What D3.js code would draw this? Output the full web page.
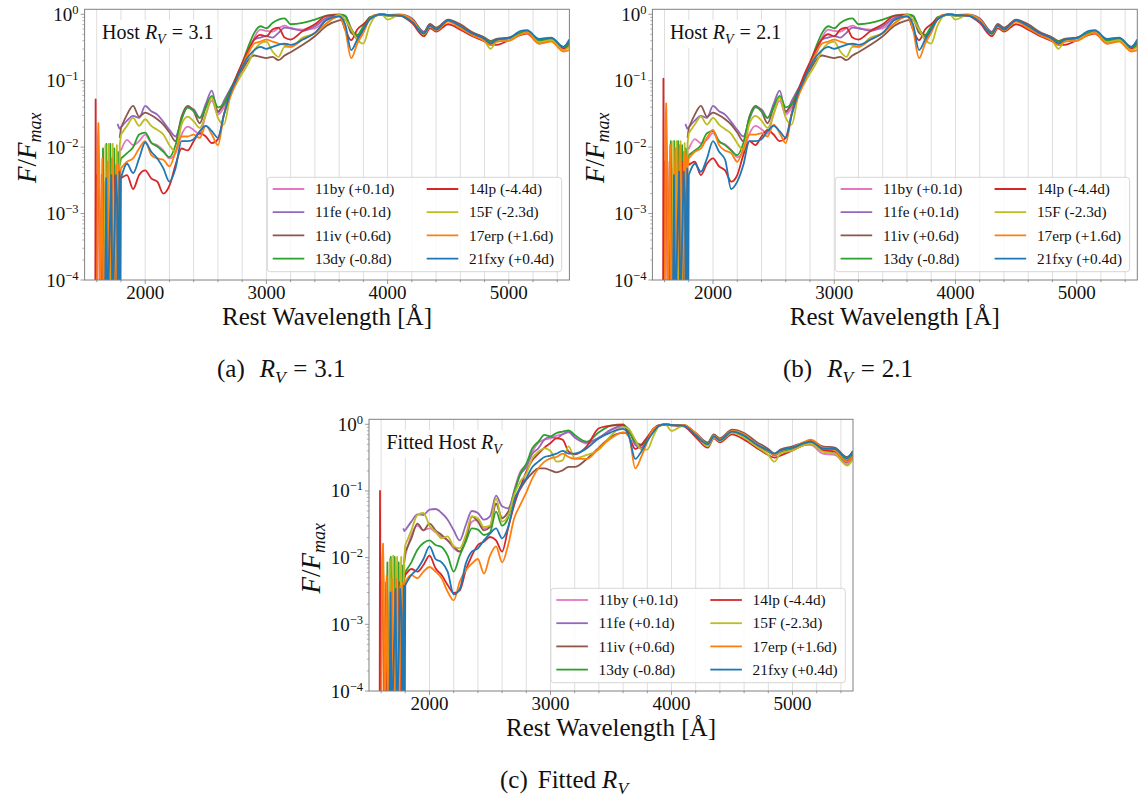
<!DOCTYPE html>
<html>
<head>
<meta charset="utf-8">
<script src="https://cdn.jsdelivr.net/npm/d3@7"></script>
<style>
  body { margin: 0; background: #fff; }
  svg text { font-family: "Liberation Serif", "Times New Roman", serif; fill: #111; }
</style>
</head>
<body>
<svg id="fig" width="1138" height="799"></svg>
<script>
// Shared rest-wavelength grid (Angstrom) for the smooth part of every spectrum.
const wave = [1800,1850,1900,1950,2000,2050,2100,2150,2200,2250,2300,2350,2400,2450,2500,2550,2600,2650,2700,2750,2800,2850,2900,2950,
  3000,3050,3100,3150,3200,3300,3400,3500,3600,3650,3700,3750,3800,3850,3900,
  3950,4000,4100,4200,4300,4350,4400,4500,4600,4700,4800,4850,4900,5000,5100,5150,5250,5350,5450,5500];

const snLabels = ["11by (+0.1d)", "11fe (+0.1d)", "11iv (+0.6d)", "13dy (-0.8d)",
                  "14lp (-4.4d)", "15F (-2.3d)", "17erp (+1.6d)", "21fxy (+0.4d)"];

// log10(F / Fmax), host corrected with R_V = 3.1
const a_11by  = [-2.05,-1.89,-1.97,-1.91,-1.81,-1.94,-1.97,-2.05,-2.17,-2.09,-1.81,-1.69,-1.74,-1.81,-1.51,-1.3,-1.51,-1.4,-1.2,-0.99,-0.79,-0.59,-0.35,-0.23,
  -0.25,-0.26,-0.21,-0.17,-0.21,-0.23,-0.21,-0.08,-0.02,-0.03,-0.21,-0.38,-0.23,-0.08,-0.02,
  0,-0.01,-0.01,-0.07,-0.27,-0.15,-0.22,-0.09,-0.17,-0.29,-0.36,-0.41,-0.38,-0.35,-0.28,-0.26,-0.39,-0.37,-0.51,-0.44];
const a_11fe  = [-1.7,-1.6,-1.53,-1.56,-1.38,-1.46,-1.51,-1.62,-1.74,-1.84,-1.58,-1.4,-1.43,-1.56,-1.35,-1.15,-1.48,-1.3,-1.13,-0.97,-0.79,-0.56,-0.38,-0.35,
  -0.33,-0.35,-0.28,-0.2,-0.21,-0.25,-0.18,-0.05,-0.01,-0.03,-0.23,-0.35,-0.23,-0.08,-0.02,
  0,-0.01,0,-0.06,-0.26,-0.15,-0.21,-0.09,-0.18,-0.28,-0.36,-0.44,-0.39,-0.36,-0.29,-0.26,-0.4,-0.38,-0.5,-0.44];
const a_11iv  = [-1.71,-1.51,-1.38,-1.54,-1.48,-1.52,-1.58,-1.66,-1.78,-1.91,-1.54,-1.38,-1.46,-1.64,-1.4,-1.25,-1.46,-1.35,-1.15,-0.99,-0.84,-0.69,-0.62,-0.64,
  -0.66,-0.64,-0.69,-0.62,-0.57,-0.46,-0.33,-0.17,-0.09,-0.08,-0.28,-0.33,-0.23,-0.05,-0.02,
  0,-0.02,-0.02,-0.07,-0.27,-0.15,-0.2,-0.08,-0.15,-0.27,-0.35,-0.4,-0.37,-0.35,-0.28,-0.25,-0.39,-0.36,-0.49,-0.42];
const a_13dy  = [-2.17,-2.09,-2.0,-1.81,-1.78,-1.93,-1.99,-2.07,-2.15,-1.97,-1.58,-1.4,-1.46,-1.56,-1.4,-1.23,-1.4,-1.35,-1.15,-0.95,-0.74,-0.49,-0.28,-0.18,
  -0.21,-0.13,-0.08,-0.06,-0.15,-0.13,-0.08,-0.02,0,-0.02,-0.23,-0.31,-0.18,-0.05,-0.02,
  -0.01,-0.02,-0.01,-0.08,-0.28,-0.17,-0.23,-0.1,-0.19,-0.3,-0.37,-0.41,-0.39,-0.37,-0.28,-0.26,-0.4,-0.37,-0.5,-0.46];
const a_14lp  = [-2.47,-2.42,-2.63,-2.42,-2.35,-2.47,-2.52,-2.7,-2.58,-2.27,-2.02,-2.05,-1.91,-1.79,-1.84,-1.94,-1.88,-1.51,-1.2,-0.95,-0.74,-0.54,-0.38,-0.31,
  -0.33,-0.23,-0.2,-0.35,-0.38,-0.25,-0.15,-0.02,-0.01,-0.23,-0.39,-0.23,-0.15,-0.07,-0.01,
  0,-0.01,-0.02,-0.13,-0.33,-0.21,-0.26,-0.15,-0.23,-0.33,-0.41,-0.46,-0.46,-0.39,-0.31,-0.29,-0.44,-0.4,-0.52,-0.49];
const a_15F   = [-1.81,-1.68,-1.56,-1.68,-1.58,-1.68,-1.74,-1.81,-1.97,-2.07,-1.66,-1.54,-1.61,-1.71,-1.51,-1.25,-1.56,-1.66,-1.25,-1.05,-0.89,-0.74,-0.54,-0.44,
  -0.41,-0.56,-0.64,-0.49,-0.49,-0.35,-0.29,-0.13,-0.01,-0.08,-0.23,-0.38,-0.44,-0.18,-0.03,
  0,-0.08,-0.01,-0.08,-0.3,-0.18,-0.24,-0.1,-0.2,-0.31,-0.4,-0.52,-0.41,-0.38,-0.3,-0.27,-0.42,-0.39,-0.54,-0.49];
const a_17erp = [-2.32,-2.22,-2.17,-2.02,-1.91,-2.12,-2.17,-2.19,-2.29,-2.07,-1.84,-1.84,-1.81,-1.86,-1.68,-1.81,-1.97,-1.51,-1.25,-1.03,-0.79,-0.59,-0.44,-0.41,
  -0.38,-0.41,-0.44,-0.46,-0.49,-0.38,-0.28,-0.13,-0.03,-0.23,-0.66,-0.44,-0.28,-0.08,-0.01,
  0,-0.01,-0.01,-0.08,-0.29,-0.18,-0.24,-0.11,-0.21,-0.31,-0.4,-0.46,-0.41,-0.4,-0.3,-0.28,-0.44,-0.41,-0.56,-0.54];
const a_21fxy = [-2.47,-2.25,-2.39,-2.17,-1.93,-2.07,-2.17,-2.32,-2.52,-2.32,-1.91,-1.91,-1.88,-1.76,-1.68,-1.76,-1.86,-1.51,-1.2,-0.99,-0.79,-0.64,-0.54,-0.49,
  -0.52,-0.49,-0.46,-0.44,-0.46,-0.38,-0.28,-0.08,-0.03,-0.15,-0.54,-0.38,-0.23,-0.08,-0.02,
  0,-0.01,-0.02,-0.11,-0.29,-0.17,-0.23,-0.09,-0.18,-0.29,-0.37,-0.44,-0.38,-0.36,-0.25,-0.24,-0.37,-0.35,-0.49,-0.38];

// log10(F / Fmax), host corrected with R_V = 2.1
const b_11by  = [-2.03,-1.88,-1.94,-1.89,-1.79,-1.92,-1.96,-2.04,-2.15,-2.07,-1.8,-1.68,-1.73,-1.8,-1.5,-1.3,-1.51,-1.4,-1.2,-0.99,-0.79,-0.59,-0.35,-0.23,
  -0.25,-0.26,-0.21,-0.17,-0.21,-0.23,-0.21,-0.08,-0.02,-0.03,-0.21,-0.38,-0.23,-0.08,-0.02,
  0,-0.01,-0.01,-0.07,-0.27,-0.15,-0.22,-0.09,-0.17,-0.29,-0.36,-0.41,-0.38,-0.35,-0.28,-0.26,-0.39,-0.37,-0.51,-0.44];
const b_11fe  = [-1.7,-1.6,-1.53,-1.56,-1.38,-1.46,-1.51,-1.62,-1.74,-1.84,-1.58,-1.4,-1.43,-1.56,-1.35,-1.15,-1.48,-1.3,-1.13,-0.97,-0.79,-0.56,-0.38,-0.35,
  -0.33,-0.35,-0.28,-0.2,-0.21,-0.25,-0.18,-0.05,-0.01,-0.03,-0.23,-0.35,-0.23,-0.08,-0.02,
  0,-0.01,0,-0.06,-0.26,-0.15,-0.21,-0.09,-0.18,-0.28,-0.36,-0.44,-0.39,-0.36,-0.29,-0.26,-0.4,-0.38,-0.5,-0.44];
const b_11iv  = [-1.71,-1.51,-1.38,-1.54,-1.48,-1.52,-1.58,-1.66,-1.78,-1.91,-1.54,-1.38,-1.46,-1.64,-1.4,-1.25,-1.46,-1.35,-1.15,-0.99,-0.84,-0.69,-0.62,-0.64,
  -0.66,-0.64,-0.69,-0.62,-0.57,-0.46,-0.33,-0.17,-0.09,-0.08,-0.28,-0.33,-0.23,-0.05,-0.02,
  0,-0.02,-0.02,-0.07,-0.27,-0.15,-0.2,-0.08,-0.15,-0.27,-0.35,-0.4,-0.37,-0.35,-0.28,-0.25,-0.39,-0.36,-0.49,-0.42];
const b_13dy  = [-2.12,-2.05,-1.97,-1.79,-1.76,-1.91,-1.97,-2.05,-2.12,-1.94,-1.56,-1.39,-1.46,-1.56,-1.4,-1.23,-1.4,-1.35,-1.15,-0.95,-0.74,-0.49,-0.28,-0.18,
  -0.21,-0.13,-0.08,-0.06,-0.15,-0.13,-0.08,-0.02,0,-0.02,-0.23,-0.31,-0.18,-0.05,-0.02,
  -0.01,-0.02,-0.01,-0.08,-0.28,-0.17,-0.23,-0.1,-0.19,-0.3,-0.37,-0.41,-0.39,-0.37,-0.28,-0.26,-0.4,-0.37,-0.5,-0.46];
const b_14lp  = [-2.27,-2.22,-2.42,-2.25,-2.17,-2.29,-2.35,-2.52,-2.42,-2.12,-1.91,-1.97,-1.84,-1.74,-1.81,-1.91,-1.86,-1.48,-1.17,-0.92,-0.72,-0.52,-0.37,-0.3,
  -0.33,-0.23,-0.2,-0.35,-0.38,-0.25,-0.15,-0.02,-0.01,-0.23,-0.39,-0.23,-0.15,-0.07,-0.01,
  0,-0.01,-0.02,-0.13,-0.33,-0.21,-0.26,-0.15,-0.23,-0.33,-0.41,-0.46,-0.46,-0.39,-0.31,-0.29,-0.44,-0.4,-0.52,-0.49];
const b_15F   = [-1.79,-1.66,-1.54,-1.66,-1.56,-1.66,-1.73,-1.8,-1.94,-2.05,-1.65,-1.53,-1.6,-1.71,-1.51,-1.25,-1.56,-1.66,-1.25,-1.05,-0.89,-0.74,-0.54,-0.44,
  -0.41,-0.56,-0.64,-0.49,-0.49,-0.35,-0.29,-0.13,-0.01,-0.08,-0.23,-0.38,-0.44,-0.18,-0.03,
  0,-0.08,-0.01,-0.08,-0.3,-0.18,-0.24,-0.1,-0.2,-0.31,-0.4,-0.52,-0.41,-0.38,-0.3,-0.27,-0.42,-0.39,-0.54,-0.49];
const b_17erp = [-2.17,-2.07,-2.02,-1.86,-1.74,-1.97,-2.05,-2.09,-2.22,-2.02,-1.81,-1.81,-1.79,-1.84,-1.66,-1.79,-1.94,-1.5,-1.25,-1.03,-0.79,-0.59,-0.44,-0.41,
  -0.38,-0.41,-0.44,-0.46,-0.49,-0.38,-0.28,-0.13,-0.03,-0.23,-0.66,-0.44,-0.28,-0.08,-0.01,
  0,-0.01,-0.01,-0.08,-0.29,-0.18,-0.24,-0.11,-0.21,-0.31,-0.4,-0.46,-0.41,-0.4,-0.3,-0.28,-0.44,-0.41,-0.56,-0.54];
const b_21fxy = [-2.42,-2.25,-2.37,-2.17,-1.91,-2.07,-2.19,-2.63,-2.52,-2.27,-1.91,-1.91,-1.88,-1.76,-1.68,-1.76,-1.86,-1.51,-1.2,-0.99,-0.79,-0.64,-0.54,-0.49,
  -0.52,-0.49,-0.46,-0.44,-0.46,-0.38,-0.28,-0.08,-0.03,-0.15,-0.54,-0.38,-0.23,-0.08,-0.02,
  0,-0.01,-0.02,-0.11,-0.29,-0.17,-0.23,-0.09,-0.18,-0.29,-0.37,-0.44,-0.38,-0.36,-0.25,-0.24,-0.37,-0.35,-0.49,-0.38];

// log10(F / Fmax), host corrected with the fitted R_V
const c_11by  = [-1.97,-1.66,-1.52,-1.59,-1.56,-1.62,-1.69,-1.74,-1.86,-1.91,-1.71,-1.46,-1.43,-1.56,-1.54,-1.19,-1.4,-1.33,-0.99,-0.71,-0.61,-0.41,-0.28,-0.23,
  -0.21,-0.17,-0.15,-0.12,-0.19,-0.29,-0.21,-0.09,-0.04,-0.08,-0.29,-0.36,-0.23,-0.08,-0.02,
  0,-0.01,-0.02,-0.15,-0.29,-0.17,-0.24,-0.11,-0.17,-0.31,-0.41,-0.46,-0.41,-0.38,-0.31,-0.31,-0.44,-0.46,-0.6,-0.49];
const c_11fe  = [-1.59,-1.46,-1.35,-1.36,-1.28,-1.27,-1.33,-1.43,-1.59,-1.74,-1.51,-1.3,-1.33,-1.43,-1.38,-1.07,-1.23,-1.26,-1.02,-0.76,-0.64,-0.44,-0.36,-0.23,
  -0.19,-0.21,-0.15,-0.11,-0.2,-0.27,-0.2,-0.08,-0.02,-0.08,-0.31,-0.35,-0.23,-0.08,-0.02,
  0,-0.01,-0.01,-0.14,-0.28,-0.16,-0.23,-0.11,-0.17,-0.3,-0.4,-0.47,-0.41,-0.37,-0.3,-0.28,-0.4,-0.44,-0.57,-0.46];
const c_11iv  = [-1.91,-1.71,-1.49,-1.59,-1.49,-1.59,-1.66,-1.74,-1.83,-1.91,-1.74,-1.38,-1.46,-1.59,-1.54,-1.19,-1.41,-1.31,-1.11,-0.97,-0.83,-0.73,-0.66,-0.66,
  -0.69,-0.72,-0.69,-0.64,-0.64,-0.52,-0.35,-0.19,-0.13,-0.13,-0.26,-0.31,-0.23,-0.07,-0.02,
  0,-0.02,-0.02,-0.13,-0.27,-0.15,-0.21,-0.08,-0.13,-0.26,-0.37,-0.44,-0.38,-0.33,-0.27,-0.24,-0.33,-0.35,-0.49,-0.4];
const c_13dy  = [-2.21,-2.07,-1.88,-1.78,-1.74,-1.81,-1.84,-1.97,-2.21,-1.97,-1.76,-1.56,-1.58,-1.66,-1.62,-1.31,-1.52,-1.4,-1.02,-0.74,-0.59,-0.36,-0.26,-0.16,
  -0.18,-0.13,-0.11,-0.09,-0.16,-0.26,-0.12,-0.02,0,-0.12,-0.26,-0.31,-0.24,-0.09,-0.02,
  -0.01,-0.01,-0.02,-0.15,-0.29,-0.17,-0.24,-0.12,-0.18,-0.31,-0.41,-0.46,-0.41,-0.37,-0.29,-0.27,-0.37,-0.39,-0.54,-0.44];
const c_14lp  = [-2.26,-2.17,-2.21,-2.11,-1.97,-2.16,-2.26,-2.41,-2.53,-2.49,-2.19,-1.97,-1.81,-1.76,-1.69,-1.74,-1.91,-1.56,-1.21,-0.95,-0.71,-0.54,-0.44,-0.35,
  -0.28,-0.21,-0.23,-0.41,-0.45,-0.33,-0.06,-0.02,-0.01,-0.18,-0.37,-0.31,-0.19,-0.07,-0.01,
  0,-0.01,-0.03,-0.19,-0.35,-0.21,-0.27,-0.15,-0.23,-0.35,-0.46,-0.5,-0.47,-0.39,-0.31,-0.29,-0.39,-0.41,-0.56,-0.49];
const c_15F   = [-1.81,-1.59,-1.36,-1.33,-1.52,-1.61,-1.71,-1.68,-1.83,-1.86,-1.66,-1.38,-1.41,-1.54,-1.52,-1.11,-1.46,-1.37,-1.06,-0.86,-0.74,-0.51,-0.41,-0.36,
  -0.4,-0.56,-0.54,-0.33,-0.51,-0.46,-0.38,-0.17,-0.04,-0.08,-0.23,-0.38,-0.38,-0.18,-0.02,
  0,-0.1,-0.02,-0.15,-0.33,-0.2,-0.25,-0.13,-0.2,-0.33,-0.46,-0.56,-0.44,-0.39,-0.31,-0.29,-0.41,-0.44,-0.62,-0.52];
const c_17erp = [-2.36,-2.26,-2.31,-2.21,-2.14,-2.21,-2.31,-2.51,-2.64,-2.36,-2.19,-2.09,-2.02,-2.24,-1.97,-1.83,-2.07,-1.81,-1.41,-1.21,-1.02,-0.81,-0.66,-0.56,
  -0.51,-0.49,-0.44,-0.49,-0.52,-0.52,-0.36,-0.21,-0.12,-0.19,-0.66,-0.49,-0.26,-0.07,-0.02,
  0,-0.01,-0.01,-0.13,-0.3,-0.17,-0.23,-0.1,-0.15,-0.3,-0.4,-0.46,-0.4,-0.35,-0.26,-0.23,-0.35,-0.39,-0.56,-0.48];
const c_21fxy = [-2.41,-2.26,-2.17,-2.02,-1.83,-2.02,-2.07,-2.21,-2.55,-2.47,-2.09,-1.91,-1.86,-1.74,-1.64,-1.56,-1.71,-1.54,-1.16,-0.94,-0.81,-0.64,-0.56,-0.49,
  -0.47,-0.44,-0.4,-0.44,-0.44,-0.36,-0.21,-0.12,-0.07,-0.19,-0.52,-0.41,-0.25,-0.12,-0.02,
  0,-0.01,-0.02,-0.16,-0.3,-0.18,-0.24,-0.11,-0.17,-0.3,-0.39,-0.44,-0.39,-0.35,-0.28,-0.26,-0.36,-0.37,-0.51,-0.4];

// Noisy blue end of each spectrum: [wavelength, log10(F/Fmax)]; -4.6 means the flux dips below the plotted range.
const a_uv_11by  = [[1783,-2.27],[1792,-2.02],[1800,-2.05]];
const a_uv_11fe  = [[1772,-1.65],[1786,-1.72],[1800,-1.7]];
const a_uv_11iv  = [[1790,-1.86],[1800,-1.71]];
const a_uv_13dy  = [[1640,-4.6],[1652,-2.02],[1660,-4.6],[1680,-1.95],[1690,-4.6],[1712,-1.95],[1722,-4.6],[1745,-2.02],[1755,-4.6],[1775,-2.07],[1790,-2.27],[1800,-2.17]];
const a_uv_14lp  = [[1588,-4.6],[1591,-1.28],[1597,-4.6],[1606,-2.42],[1618,-2.37],[1626,-4.6],[1642,-2.42],[1652,-4.6],[1672,-2.52],[1684,-4.6],[1712,-2.57],[1722,-4.6],[1752,-2.42],[1765,-4.6],[1790,-2.37],[1800,-2.47]];
const a_uv_15F   = [[1662,-4.6],[1672,-1.97],[1680,-4.6],[1700,-1.95],[1710,-4.6],[1732,-1.95],[1742,-4.6],[1766,-1.97],[1776,-4.6],[1790,-1.97],[1800,-1.81]];
const a_uv_17erp = [[1602,-4.6],[1608,-1.96],[1614,-1.64],[1621,-2.27],[1628,-4.6],[1646,-2.17],[1656,-4.6],[1690,-2.22],[1700,-4.6],[1725,-2.17],[1735,-4.6],[1760,-2.27],[1770,-4.6],[1782,-2.27],[1792,-2.42],[1800,-2.32]];
const a_uv_21fxy = [[1668,-4.6],[1678,-2.47],[1688,-4.6],[1720,-2.42],[1730,-4.6],[1758,-2.42],[1768,-2.78],[1776,-4.6],[1788,-2.37],[1795,-4.6],[1800,-2.47]];

const b_uv_11by  = [[1783,-2.25],[1792,-2.0],[1800,-2.03]];
const b_uv_11fe  = [[1772,-1.65],[1786,-1.72],[1800,-1.7]];
const b_uv_11iv  = [[1790,-1.86],[1800,-1.71]];
const b_uv_13dy  = [[1640,-4.6],[1652,-1.91],[1660,-4.6],[1680,-1.91],[1690,-4.6],[1712,-1.91],[1722,-4.6],[1745,-1.97],[1755,-4.6],[1775,-2.02],[1790,-2.22],[1800,-2.12]];
const b_uv_14lp  = [[1588,-4.6],[1591,-0.97],[1597,-4.6],[1606,-2.22],[1618,-2.17],[1626,-4.6],[1642,-2.22],[1652,-4.6],[1672,-2.32],[1684,-4.6],[1712,-2.37],[1722,-4.6],[1752,-2.22],[1765,-4.6],[1790,-2.17],[1800,-2.27]];
const b_uv_15F   = [[1662,-4.6],[1672,-1.91],[1680,-4.6],[1700,-1.91],[1710,-4.6],[1732,-1.91],[1742,-4.6],[1766,-1.94],[1776,-4.6],[1790,-1.94],[1800,-1.79]];
const b_uv_17erp = [[1602,-4.6],[1608,-1.66],[1614,-1.34],[1621,-2.07],[1628,-4.6],[1646,-1.97],[1656,-4.6],[1690,-2.02],[1700,-4.6],[1725,-1.97],[1735,-4.6],[1760,-2.07],[1770,-4.6],[1782,-2.12],[1792,-2.27],[1800,-2.17]];
const b_uv_21fxy = [[1668,-4.6],[1678,-2.42],[1688,-4.6],[1720,-2.37],[1730,-4.6],[1758,-2.37],[1768,-2.73],[1776,-4.6],[1788,-2.32],[1795,-4.6],[1800,-2.42]];

const c_uv_11by  = [[1778,-2.37],[1790,-2.07],[1800,-1.97]];
const c_uv_11fe  = [[1783,-1.56],[1792,-1.6],[1800,-1.59]];
const c_uv_11iv  = [[1790,-2.07],[1800,-1.91]];
const c_uv_13dy  = [[1640,-4.6],[1652,-2.07],[1660,-4.6],[1680,-1.99],[1690,-4.6],[1712,-1.99],[1722,-4.6],[1745,-2.07],[1755,-4.6],[1775,-2.12],[1790,-2.32],[1800,-2.21]];
const c_uv_14lp  = [[1588,-4.6],[1591,-1.0],[1597,-4.6],[1606,-2.37],[1618,-2.32],[1626,-4.6],[1642,-2.37],[1652,-4.6],[1672,-2.47],[1684,-4.6],[1712,-2.52],[1722,-4.6],[1752,-2.37],[1765,-4.6],[1790,-2.32],[1800,-2.26]];
const c_uv_15F   = [[1662,-4.6],[1672,-2.02],[1680,-4.6],[1700,-1.97],[1710,-4.6],[1732,-1.99],[1742,-4.6],[1766,-1.99],[1776,-4.6],[1790,-2.02],[1800,-1.81]];
const c_uv_17erp = [[1602,-4.6],[1608,-2.07],[1616,-1.79],[1622,-2.37],[1628,-4.6],[1646,-2.27],[1656,-4.6],[1690,-2.32],[1700,-4.6],[1725,-2.32],[1735,-4.6],[1760,-2.42],[1770,-4.6],[1782,-2.37],[1792,-2.47],[1800,-2.36]];
const c_uv_21fxy = [[1668,-4.6],[1678,-2.52],[1688,-4.6],[1720,-2.47],[1730,-4.6],[1758,-2.47],[1768,-2.83],[1776,-4.6],[1788,-2.42],[1795,-4.6],[1800,-2.41]];

// Axis tick values
const xMajorTicks = [2000, 3000, 4000, 5000];
const xGridTicks = d3.range(1600, 5401, 200);
const yDecades = [-4, -3, -2, -1, 0];

// Matplotlib tab10 colours, one per supernova
const palette = ["#e377c2", "#9467bd", "#8c564b", "#2ca02c", "#d62728", "#bcbd22", "#ff7f0e", "#1f77b4"];

const panels = [
  { key: "a", box: [84.6, 9.3, 569.4, 280], rv: "3.1", noteLead: "Host", caption: "(a)", captionX: 217,
    spectra: [a_11by, a_11fe, a_11iv, a_13dy, a_14lp, a_15F, a_17erp, a_21fxy],
    uv: [a_uv_11by, a_uv_11fe, a_uv_11iv, a_uv_13dy, a_uv_14lp, a_uv_15F, a_uv_17erp, a_uv_21fxy] },
  { key: "b", box: [652.4, 9.3, 1137.3, 280], rv: "2.1", noteLead: "Host", caption: "(b)", captionX: 783,
    spectra: [b_11by, b_11fe, b_11iv, b_13dy, b_14lp, b_15F, b_17erp, b_21fxy],
    uv: [b_uv_11by, b_uv_11fe, b_uv_11iv, b_uv_13dy, b_uv_14lp, b_uv_15F, b_uv_17erp, b_uv_21fxy] },
  { key: "c", box: [369, 419.3, 853, 691], rv: null, noteLead: "Fitted Host", caption: "(c)", captionX: 500,
    spectra: [c_11by, c_11fe, c_11iv, c_13dy, c_14lp, c_15F, c_17erp, c_21fxy],
    uv: [c_uv_11by, c_uv_11fe, c_uv_11iv, c_uv_13dy, c_uv_14lp, c_uv_15F, c_uv_17erp, c_uv_21fxy] }
];

const svg = d3.select("#fig");
const frameColor = "#808080";
const gridColor = "#dedede";
const topPad = 5;   // headroom between 10^0 and the top spine, px

// italic R with V subscript, then optional " = value" with math spacing
function addRv(textSel, size, gapBefore, value) {
  const sub = size * 0.7;
  textSel.append("tspan").attr("dx", gapBefore).attr("font-style", "italic").text("R");
  textSel.append("tspan").attr("font-style", "italic").attr("font-size", sub).attr("dy", size * 0.22).text("V");
  if (value) {
    textSel.append("tspan").attr("dy", -size * 0.22).attr("dx", size * 0.3).text("=");
    textSel.append("tspan").attr("dx", size * 0.28).text(value);
  }
}

panels.forEach(p => {
  const [x0, y0, x1, y1] = p.box;
  const decadePx = (y1 - y0 - topPad) / 4;
  const x = d3.scaleLinear().domain([1500, 5500]).range([x0, x1]);
  const y = d3.scaleLog().domain([1e-4, Math.pow(10, topPad / decadePx)]).range([y1, y0]);
  const g = svg.append("g");

  // vertical grid every 200 A
  g.append("g").selectAll("line").data(xGridTicks).join("line")
    .attr("x1", d => x(d)).attr("x2", d => x(d)).attr("y1", y0).attr("y2", y1)
    .attr("stroke", gridColor).attr("stroke-width", 1);

  // label box in the upper-left corner
  const note = g.append("text").attr("x", x0 + 17.5).attr("y", y0 + 30).attr("font-size", 20);
  note.append("tspan").text(p.noteLead);
  addRv(note, 20, 5, p.rv);
  const nb = note.node().getBBox();
  g.insert("rect", "text").attr("x", nb.x - 4).attr("y", nb.y - 1).attr("width", nb.width + 8).attr("height", nb.height + 2)
    .attr("fill", "#fff");

  // spectra, clipped to the axes
  const clipId = "clip-" + p.key;
  svg.append("clipPath").attr("id", clipId).append("rect")
    .attr("x", x0).attr("y", y0).attr("width", x1 - x0).attr("height", y1 - y0);
  const lines = g.append("g").attr("clip-path", `url(#${clipId})`);
  const smooth = d3.line().x(d => x(d[0])).y(d => y(Math.pow(10, d[1]))).curve(d3.curveMonotoneX);
  const jagged = d3.line().x(d => x(d[0])).y(d => y(Math.pow(10, d[1])));
  p.spectra.forEach((vals, i) => {
    const pts = wave.map((w, k) => [w, vals[k]]);
    lines.append("path").attr("d", jagged(p.uv[i])).attr("fill", "none")
      .attr("stroke", palette[i]).attr("stroke-width", 1.8).attr("stroke-linejoin", "round");
    lines.append("path").attr("d", smooth(pts)).attr("fill", "none")
      .attr("stroke", palette[i]).attr("stroke-width", 1.8).attr("stroke-linejoin", "round");
  });

  // frame
  g.append("rect").attr("x", x0).attr("y", y0).attr("width", x1 - x0).attr("height", y1 - y0)
    .attr("fill", "none").attr("stroke", frameColor).attr("stroke-width", 1);

  // x ticks
  g.append("g").selectAll("line").data(xGridTicks).join("line")
    .attr("x1", d => x(d)).attr("x2", d => x(d)).attr("y1", y1)
    .attr("y2", d => y1 + (xMajorTicks.includes(d) ? 4 : 2.2))
    .attr("stroke", frameColor).attr("stroke-width", 0.8);
  g.append("g").selectAll("text").data(xMajorTicks).join("text")
    .attr("x", d => x(d)).attr("y", y1 + 18.5).attr("text-anchor", "middle").attr("font-size", 19)
    .text(d => d);

  // y ticks (decades and log minor ticks)
  const minors = [];
  for (let e = -4; e <= 0; e++) for (let m = 2; m <= 9; m++) minors.push(m * Math.pow(10, e));
  g.append("g").selectAll("line").data(minors.filter(v => y(v) >= y0)).join("line")
    .attr("x1", x0 - 2.2).attr("x2", x0).attr("y1", d => y(d)).attr("y2", d => y(d))
    .attr("stroke", frameColor).attr("stroke-width", 0.6);
  g.append("g").selectAll("line").data(yDecades).join("line")
    .attr("x1", x0 - 4).attr("x2", x0).attr("y1", d => y(Math.pow(10, d))).attr("y2", d => y(Math.pow(10, d)))
    .attr("stroke", frameColor).attr("stroke-width", 0.8);
  yDecades.forEach(e => {
    const t = g.append("text").attr("x", x0 - 6).attr("y", y(Math.pow(10, e)) + 6.5)
      .attr("text-anchor", "end").attr("font-size", 19);
    t.append("tspan").text("10");
    t.append("tspan").attr("font-size", 12.5).attr("dy", -7).text(e === 0 ? "0" : "\u2212" + (-e));
  });

  // axis titles
  g.append("text").attr("x", (x0 + x1) / 2).attr("y", y1 + 45)
    .attr("text-anchor", "middle").attr("font-size", 25).text("Rest Wavelength [\u00C5]");
  const yt = g.append("text").attr("transform", `translate(${x0 - 58},${(y0 + y1) / 2 + 3}) rotate(-90)`)
    .attr("text-anchor", "middle").attr("dy", "0.35em").attr("font-size", 27);
  yt.append("tspan").attr("font-style", "italic").text("F");
  yt.append("tspan").text("/");
  yt.append("tspan").attr("font-style", "italic").text("F");
  yt.append("tspan").attr("font-style", "italic").attr("font-size", 18).attr("dy", 5).text("max");

  // legend
  const lw = 294.4, lh = 94.4;
  const lx = x1 - 7.7 - lw, ly = y1 - 8.3 - lh;
  const leg = g.append("g");
  leg.append("rect").attr("x", lx).attr("y", ly).attr("width", lw).attr("height", lh).attr("rx", 3)
    .attr("fill", "#fff").attr("fill-opacity", 0.8).attr("stroke", "#d6d6d6").attr("stroke-width", 1);
  snLabels.forEach((lab, i) => {
    const col = Math.floor(i / 4), row = i % 4;
    const cx = lx + 5.4 + col * 154, cy = ly + 11.7 + row * 23.2;
    leg.append("line").attr("x1", cx).attr("x2", cx + 31.6).attr("y1", cy).attr("y2", cy)
      .attr("stroke", palette[i]).attr("stroke-width", 1.8);
    leg.append("text").attr("x", cx + 42.3).attr("y", cy + 5.2).attr("font-size", 15.3).text(lab);
  });

  // sub-figure caption
  const cap = svg.append("text").attr("x", p.captionX).attr("y", y1 + 97).attr("font-size", 25);
  cap.append("tspan").text(p.caption);
  if (p.rv) {
    addRv(cap, 25, 15, p.rv);
  } else {
    cap.append("tspan").attr("dx", 10).text("Fitted");
    addRv(cap, 25, 6, null);
  }
});
</script>
</body>
</html>
